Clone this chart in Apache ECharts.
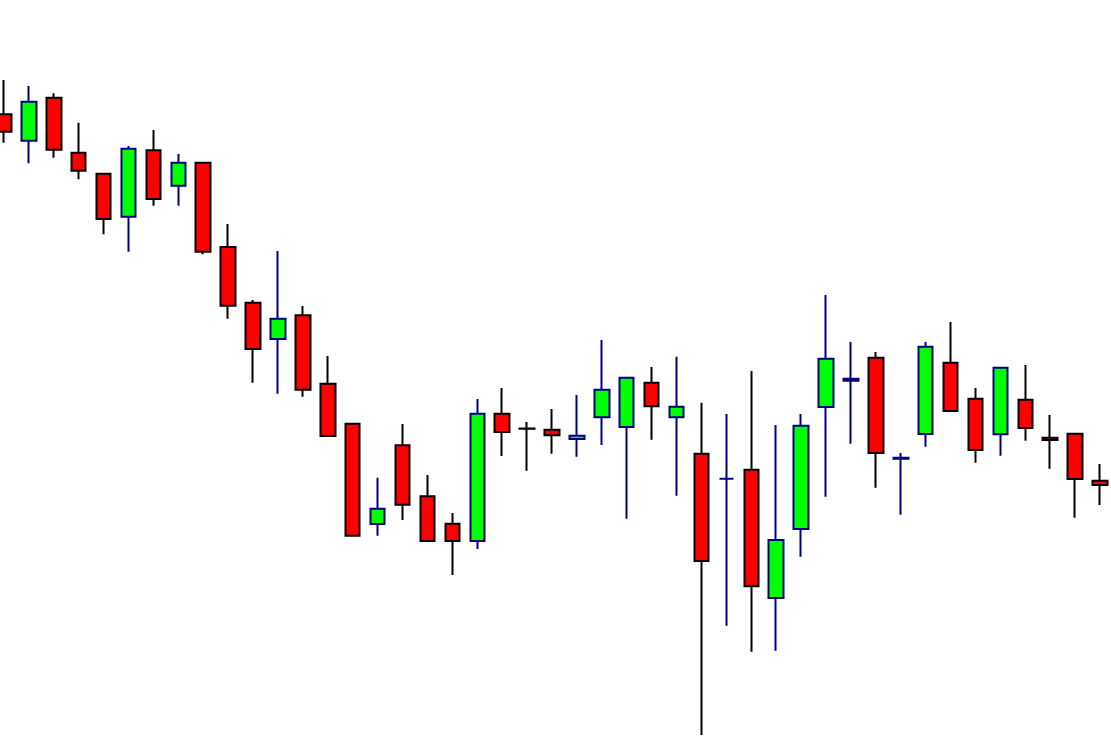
<!DOCTYPE html>
<html>
<head>
<meta charset="utf-8">
<script src="https://cdn.jsdelivr.net/npm/echarts@6/dist/echarts.min.js"></script>
<style>
html,body{margin:0;padding:0;background:#fff;}
#chart{width:1111px;height:745px;}
</style>
</head>
<body>
<div id="chart"></div>
<script>
// Candle index labels (no visible axis in the reference)
const categories = Array.from({length: 45}, (_, i) => String(i + 1));
// [open, close, low, high]
const opens  = [630.7,604.3,647.3,592.3,571.3,528.3,594.7,559.3,582.3,498,442.3,406,429.7,361.3,321.3,221,299.7,248.7,221.3,204,331.3,316.6,315.3,306,327.7,318,362.3,327.7,291.3,266.3,275.3,147,216,338,364.3,387.3,286.2,311,382.3,346.3,310.7,345.3,307.3,311.3,264.3];
const closes = [613.3,643.3,595.3,574.3,526,596.3,546,582.3,493.3,439.3,396,426.3,355.3,309,209.3,236.3,240.3,204,204,331.3,313,316.2,309.7,309.3,355.3,367.3,338.7,338.3,184,266.3,158.7,205,319.3,386.3,366.3,292,287.2,398.3,334,295,377.3,317,305,266,260];
const lows   = [602.3,581.7,587.3,565.7,510.7,493.3,539.3,539.3,490.7,426.3,362.3,351.3,348.3,308,208.3,209.3,225,203,170,196,289,274.3,291.3,288.3,300,226.3,305.3,249.3,10,119.3,93.3,94.3,188.3,248.3,301.3,257.3,230.3,298.3,333,282.3,289.3,304.3,276.3,227.3,240];
const highs  = [665,659,651.7,622.3,571.3,599,615,591,582.3,521,445,494,439,389,321.3,267.3,321,270,232,346,357,323,336,350,405,367.3,378,388.3,342.3,331,374,320,331,450,403,393,292,403,423,357,378.3,380,330,312.3,281];

const ohlc = categories.map((_, i) => [opens[i], closes[i], lows[i], highs[i]]);

const chart = echarts.init(document.getElementById('chart'), null, {renderer: 'canvas'});
chart.setOption({
  backgroundColor: '#ffffff',
  animation: false,
  grid: {left: -8.5, right: -1.5, top: 0, bottom: 0, outerBoundsMode: 'none', containLabel: false},
  xAxis: {
    type: 'category',
    data: categories,
    show: false,
    boundaryGap: true
  },
  yAxis: {
    type: 'value',
    min: 0,
    max: 745,
    show: false,
    splitLine: {show: false}
  },
  series: [{
    type: 'candlestick',
    data: ohlc,
    barWidth: 15,
    clip: false,
    itemStyle: {
      color: '#00ff00',
      color0: '#ff0000',
      borderColor: '#000080',
      borderColor0: '#000000',
      borderWidth: 2
    }
  }]
});
</script>
</body>
</html>
